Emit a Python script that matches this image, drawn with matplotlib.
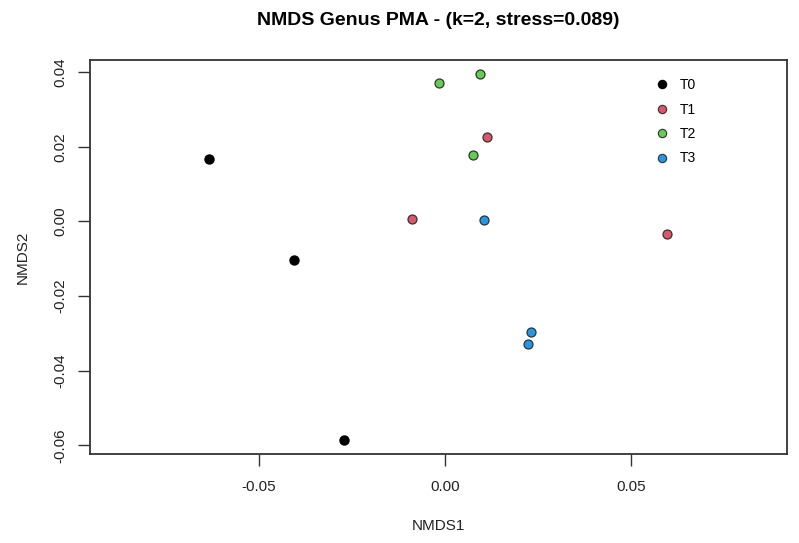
import matplotlib
matplotlib.use('Agg')
import matplotlib.pyplot as plt
from matplotlib.lines import Line2D

plt.rcParams.update({
    'font.family': ['Liberation Sans', 'DejaVu Sans'],
    'font.size': 11,
})

# NMDS 좌표
groups = ['T0', 'T1', 'T2', 'T3']
colors = ['#000000', '#DF536B', '#61D04F', '#2297E6']
nmds1 = {
    'T0': [-0.0635, -0.0406, -0.0271],
    'T1': [-0.0089, 0.0112, 0.0595],
    'T2': [-0.0017, 0.0093, 0.0074],
    'T3': [0.0104, 0.0230, 0.0222],
}
nmds2 = {
    'T0': [0.0168, -0.0103, -0.0586],
    'T1': [0.0005, 0.0227, -0.0034],
    'T2': [0.0371, 0.0395, 0.0178],
    'T3': [0.0003, -0.0296, -0.0328],
}

fig = plt.figure(figsize=(7.99, 5.43), dpi=100)
ax = fig.add_axes([0.1126, 0.1634, 0.8724, 0.7252])

for g, c in zip(groups, colors):
    if g == 'T0':
        ax.scatter(nmds1[g], nmds2[g], s=42, color=c, zorder=3)
    else:
        ax.scatter(nmds1[g], nmds2[g], s=42, color=c, edgecolor='#333333',
                   linewidth=0.9, zorder=3)

ax.set_xlim(-0.0954, 0.0918)
ax.set_ylim(-0.0624, 0.0431)
ax.set_xticks([-0.05, 0.0, 0.05])
ax.set_xticklabels(['-0.05', '0.00', '0.05'])
ax.set_yticks([-0.06, -0.04, -0.02, 0.0, 0.02, 0.04])
ax.set_yticklabels(['-0.06', '-0.04', '-0.02', '0.00', '0.02', '0.04'],
                   rotation=90, va='center')
ax.tick_params(direction='out', length=8.5, width=1.0, color='#333333',
               labelsize=11, labelcolor='#222222')
ax.tick_params(axis='x', pad=10)
ax.tick_params(axis='y', pad=8)
for sp in ax.spines.values():
    sp.set_color('#333333')
    sp.set_linewidth(1.3)

ax.set_xlabel('NMDS1', fontsize=11, labelpad=18, color='#222222')
ax.set_ylabel('NMDS2', fontsize=11, labelpad=17, color='#222222')
fig.suptitle('NMDS Genus PMA - (k=2, stress=0.089)', fontsize=14,
             fontweight='bold', y=0.962, x=0.548, va='center')

# 범례
handles = []
for g, c in zip(groups, colors):
    ec = c if g == 'T0' else '#333333'
    handles.append(Line2D([], [], linestyle='none', marker='o', markersize=6,
                          markerfacecolor=c, markeredgecolor=ec,
                          markeredgewidth=0.8, label=g))
ax.legend(handles=handles, loc='upper left', bbox_to_anchor=(0.806, 0.955),
          frameon=False, fontsize=10, handlelength=1.4, handletextpad=0.6,
          labelspacing=0.75, borderaxespad=0, borderpad=0)

fig.savefig('out.png', dpi=100, facecolor='white')
